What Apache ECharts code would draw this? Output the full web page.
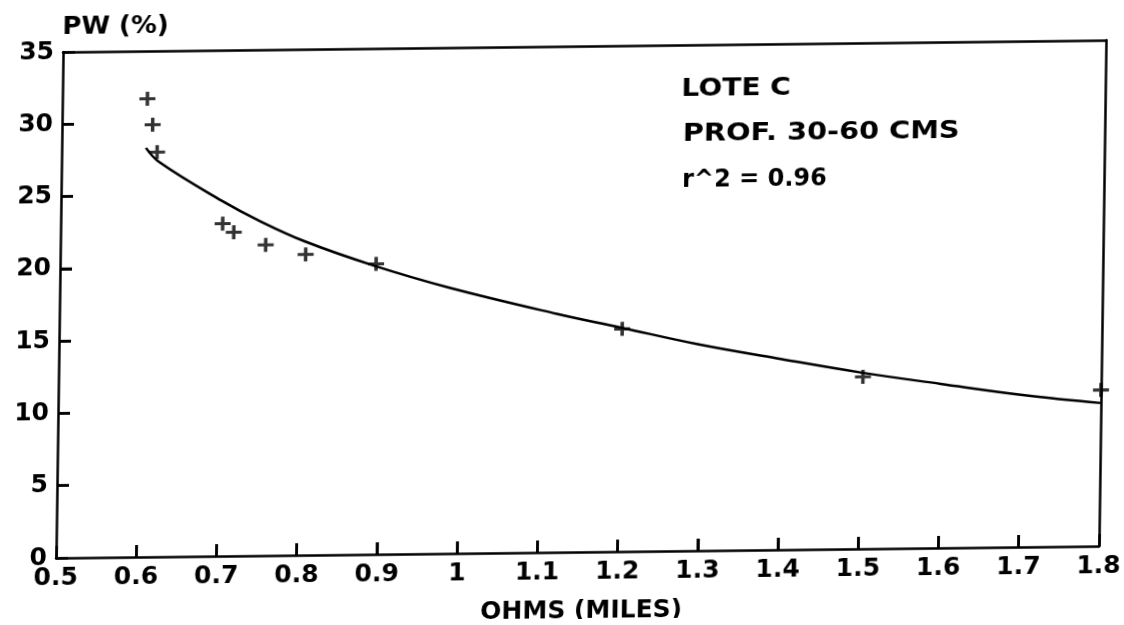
<!DOCTYPE html>
<html>
<head>
<meta charset="utf-8">
<script src="https://cdn.jsdelivr.net/npm/echarts@6/dist/echarts.min.js"></script>
<style>
html, body { margin: 0; padding: 0; background: #fff; }
/* the scanned plot is slightly sheared */
#wrap { width: 1124px; height: 625px; transform: skew(-0.8deg, -0.65deg); transform-origin: 56px 558px; }
#main { width: 1124px; height: 625px; }
</style>
</head>
<body>
<div id="wrap"><div id="main"></div></div>
<script>
// measured points
const ohms = [0.606, 0.613, 0.619, 0.702, 0.716, 0.756, 0.806, 0.894, 1.202, 1.503, 1.80];
const pw = [31.7, 29.9, 28.0, 23.0, 22.4, 21.5, 20.8, 20.1, 15.4, 11.9, 10.8];
// fitted curve
const fitX = [0.605, 0.622, 0.70, 0.75, 0.805, 0.89, 0.985, 1.12, 1.2, 1.295, 1.395, 1.5, 1.6, 1.705, 1.8];
const fitY = [28.3, 27.3, 24.6, 23.1, 21.7, 20.0, 18.4, 16.5, 15.5, 14.3, 13.25, 12.2, 11.35, 10.5, 9.9];

// inner tick marks
const xTicks = [0.6, 0.7, 0.8, 0.9, 1.0, 1.1, 1.2, 1.3, 1.4, 1.5, 1.6, 1.7];
const yTicks = [5, 10, 15, 20, 25, 30];

const labels = ["LOTE C", "PROF. 30-60 CMS", "r^2 = 0.96"];
const yName = "PW (%)";
const xName = "OHMS (MILES)";

const font = "DejaVu Sans";
const txt = "bold 24px '" + font + "'";
const plus = "path://M0,6.25H6.25V0H9.75V6.25H16V9.75H9.75V16H6.25V9.75H0Z";
const tickLen = 12;

function tickItem(dx, dy) {
  return function (params, api) {
    const p = api.coord([api.value(0), api.value(1)]);
    return {
      type: "line",
      shape: { x1: p[0], y1: p[1], x2: p[0] + dx, y2: p[1] + dy },
      style: { stroke: "#000", lineWidth: 2.5 }
    };
  };
}

const chart = echarts.init(document.getElementById("main"));
chart.setOption({
  animation: false,
  backgroundColor: "#fff",
  grid: { left: 56, right: 19, top: 52, bottom: 67 },
  xAxis: [
    {
      type: "value", min: 0.5, max: 1.8, interval: 0.1,
      splitLine: { show: false },
      axisLine: { show: true, onZero: false, lineStyle: { color: "#000", width: 2.5 } },
      axisTick: { show: true, inside: true, length: tickLen, lineStyle: { color: "#000", width: 2.5 } },
      axisLabel: { color: "#000", fontFamily: font, fontWeight: "bold", fontSize: 25, margin: 8 }
    },
    {
      type: "value", position: "top", min: 0.5, max: 1.8,
      splitLine: { show: false }, axisTick: { show: false }, axisLabel: { show: false },
      axisLine: { show: true, onZero: false, lineStyle: { color: "#000", width: 2.5 } }
    }
  ],
  yAxis: [
    {
      type: "value", min: 0, max: 35, interval: 5,
      splitLine: { show: false },
      axisLine: { show: true, onZero: false, lineStyle: { color: "#000", width: 2.5 } },
      axisTick: { show: true, inside: true, length: tickLen, lineStyle: { color: "#000", width: 2.5 } },
      axisLabel: { color: "#000", fontFamily: font, fontWeight: "bold", fontSize: 25, margin: 9 }
    },
    {
      type: "value", position: "right", min: 0, max: 35,
      splitLine: { show: false }, axisTick: { show: false }, axisLabel: { show: false },
      axisLine: { show: true, onZero: false, lineStyle: { color: "#000", width: 2.5 } }
    }
  ],
  graphic: [
    { type: "text", x: 55, y: 28, scaleX: 1.08, style: { text: yName, fill: "#000", font: txt, verticalAlign: "middle" } },
    { type: "text", x: 675, y: 97, scaleX: 1.17, style: { text: labels[0], fill: "#000", font: txt, verticalAlign: "middle" } },
    { type: "text", x: 677, y: 142, scaleX: 1.2, style: { text: labels[1], fill: "#000", font: txt, verticalAlign: "middle" } },
    { type: "text", x: 677, y: 188, style: { text: labels[2], fill: "#000", font: txt, verticalAlign: "middle" } },
    { type: "text", x: 582, y: 617, style: { text: xName, fill: "#000", font: "bold 25px '" + font + "'", align: "center", verticalAlign: "middle" } }
  ],
  series: [
    {
      type: "line",
      data: fitX.map((x, i) => [x, fitY[i]]),
      smooth: 0.4,
      showSymbol: false,
      lineStyle: { color: "#000", width: 2.5 }
    },
    {
      type: "scatter",
      data: ohms.map((x, i) => [x, pw[i]]),
      symbol: plus,
      symbolSize: [16, 14],
      itemStyle: { color: "#000" }
    },
    {
      type: "custom",
      data: xTicks.map(v => [v, 0]),
      renderItem: tickItem(0, -tickLen),
      silent: true
    },
    {
      type: "custom",
      data: yTicks.map(v => [0.5, v]),
      renderItem: tickItem(tickLen, 0),
      silent: true
    }
  ]
});
</script>
</body>
</html>
